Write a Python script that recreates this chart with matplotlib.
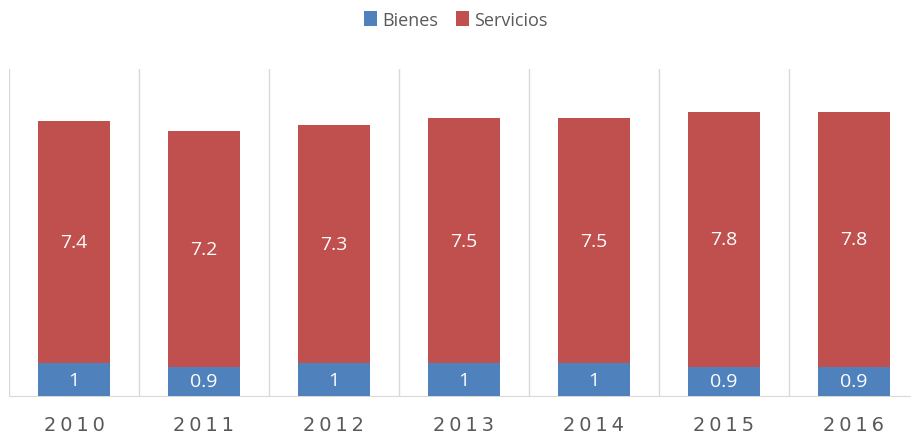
import matplotlib.pyplot as plt
import numpy as np

years = ["2010", "2011", "2012", "2013", "2014", "2015", "2016"]
bienes = [1, 0.9, 1, 1, 1, 0.9, 0.9]
servicios = [7.4, 7.2, 7.3, 7.5, 7.5, 7.8, 7.8]

blue = "#4F81BD"
red = "#C0504D"
grey = "#595959"

fig = plt.figure(figsize=(9.12, 4.39), dpi=100)
# axis runs a bit past the right edge, like the cropped original
ax = fig.add_axes([9 / 912, 42 / 439, 910 / 912, 327 / 439])

x = np.arange(len(years))
w = 0.56
b1 = ax.bar(x, bienes, w, color=blue, label="Bienes", zorder=3)
b2 = ax.bar(x, servicios, w, bottom=bienes, color=red, label="Servicios", zorder=3)

ax.bar_label(b1, labels=[f"{v:g}" for v in bienes], label_type="center",
             color="white", fontsize=14, family="Open Sans")
ax.bar_label(b2, labels=[f"{v:g}" for v in servicios], label_type="center",
             color="white", fontsize=14, family="Open Sans")

ax.set_xlim(-0.5, len(years) - 0.5)
ax.set_ylim(0, 10)

# vertical separators between categories
for b in np.arange(-0.5, len(years), 1):
    ax.axvline(b, color="#D9D9D9", lw=1, zorder=1)

for s in ["top", "right", "left"]:
    ax.spines[s].set_visible(False)
ax.spines["bottom"].set_color("#D9D9D9")
ax.set_yticks([])
ax.set_xticks(x)
ax.set_xticklabels(["\u2009".join(y) for y in years], fontsize=14,
                   color=grey, family="DejaVu Sans")
ax.tick_params(axis="x", length=0, pad=14)

fig.legend(loc="upper center", bbox_to_anchor=(0.5, 1.01), ncol=2, frameon=False,
           labelcolor=grey, handlelength=0.7, handleheight=0.9,
           handletextpad=0.3, columnspacing=1.0, prop={"family": "Open Sans", "size": 13})

fig.savefig("out.png", dpi=100)
